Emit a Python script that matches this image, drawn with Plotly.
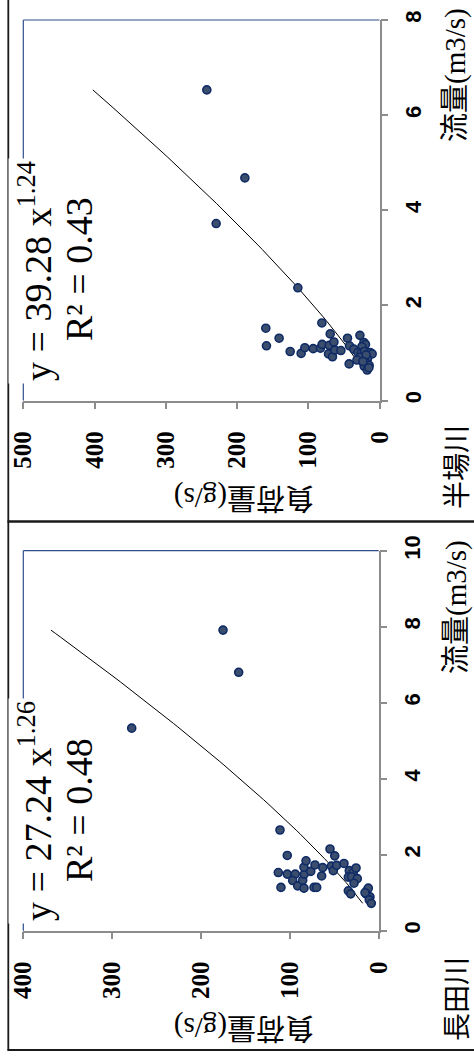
import numpy as np
import plotly.graph_objects as go

W, H = 474, 1062

# 半場川: flow (m3/s) and load (g/s)
hanba_flow = [6.53, 4.68, 3.72, 2.37,
              1.52, 1.15, 1.31, 1.03, 0.99, 1.11, 1.09, 1.10, 1.63, 1.18,
              1.40, 1.16, 1.23, 0.98, 0.92, 1.06, 1.05, 1.31, 1.15, 0.77,
              1.08, 1.37, 1.22, 1.18, 1.13, 1.01, 0.99, 1.03, 1.01, 0.98,
              0.91, 0.87, 0.85, 0.80, 0.74, 0.72, 0.64, 0.69, 0.96, 0.82]
hanba_load = [242.4, 189.0, 229.3, 114.6,
              159.6, 158.7, 140.9, 125.4, 110.0, 104.8, 93.1, 82.9, 80.9, 80.5,
              69.2, 70.6, 64.0, 71.6, 66.0, 62.6, 54.2, 44.9, 42.1, 42.6,
              36.0, 27.5, 21.9, 19.7, 24.7, 30.3, 25.7, 21.1, 13.1, 10.3,
              27.1, 16.9, 31.7, 19.7, 14.5, 21.5, 17.3, 14.9, 18.7, 23.3]

# 長田川: flow (m3/s) and load (g/s)
nagata_flow = [5.33, 7.91, 6.80,
               2.65, 1.98, 1.53, 1.14, 1.49, 1.49, 1.32, 1.18, 1.12, 1.33,
               1.49, 1.67, 1.84, 1.56, 1.73, 1.14, 1.14, 1.44, 1.66, 2.15,
               1.97, 1.70, 1.58, 1.72, 1.77, 1.58, 1.53, 1.65, 1.41, 1.42,
               1.37, 1.25, 1.05, 0.97, 1.05, 1.12, 0.97, 0.89, 0.81, 0.72, 1.00]
nagata_load = [278.0, 175.2, 157.6,
               111.1, 102.9, 113.0, 110.0, 102.9, 93.9, 96.8, 91.2, 84.1, 85.5,
               83.7, 84.1, 81.8, 76.5, 71.7, 72.8, 69.8, 64.2, 63.0, 54.8,
               49.5, 53.3, 51.1, 47.3, 39.1, 33.1, 28.6, 25.5, 34.2, 30.4,
               24.1, 27.8, 34.2, 31.5, 13.5, 11.7, 14.3, 9.8, 10.6, 8.3, 15.4]

# power-law fits  load = a * flow^b, with R²
hanba_fit = (39.28, 1.24, 0.43)
nagata_fit = (27.24, 1.26, 0.48)

load_ticks_top = [0, 100, 200, 300, 400, 500]
load_ticks_bot = [0, 100, 200, 300, 400]
flow_ticks_top = [0, 2, 4, 6, 8]
flow_ticks_bot = [0, 2, 4, 6, 8, 10]


def px_x(p):
    return p / W


def px_y(p):
    return 1 - p / H


MARKER = dict(size=8, color="#3b4e6e", line=dict(color="#0f2b66", width=1.6))
AXIS_GRAY = "#8c8c8c"
TITLE_FONT = "Liberation Serif, Noto Sans CJK JP"

fig = go.Figure()

panels = [
    (hanba_flow, hanba_load, hanba_fit, "x", "y"),
    (nagata_flow, nagata_load, nagata_fit, "x2", "y2"),
]

for flow, load, (a, b, _), xa, ya in panels:
    fx = np.linspace(min(flow), max(flow), 80)
    fig.add_trace(go.Scatter(x=a * fx ** b, y=fx, mode="lines",
                             line=dict(color="black", width=1),
                             xaxis=xa, yaxis=ya, hoverinfo="skip"))
    fig.add_trace(go.Scatter(x=load, y=flow, mode="markers", marker=MARKER,
                             xaxis=xa, yaxis=ya))


def load_axis(domain, ticks, anchor):
    return dict(domain=domain, range=[ticks[-1], 0], tickvals=ticks,
                anchor=anchor, showgrid=False, zeroline=False, automargin=False,
                showline=True, linecolor=AXIS_GRAY, linewidth=1.5,
                ticks="outside", ticklen=7, tickwidth=1.5, tickcolor=AXIS_GRAY,
                tickangle=-90, ticklabelstandoff=12,
                tickfont=dict(family="Liberation Serif", size=25, color="black",
                              weight="bold"))


def flow_axis(domain, ticks, anchor):
    return dict(domain=domain, range=[0, ticks[-1]], tickvals=ticks,
                anchor=anchor, side="right", showgrid=False, zeroline=False,
                automargin=False,
                showline=True, linecolor=AXIS_GRAY, linewidth=1.5,
                ticks="outside", ticklen=7, tickwidth=1.5, tickcolor=AXIS_GRAY,
                tickangle=-90, ticklabelstandoff=6,
                tickfont=dict(family="Liberation Sans", size=22, color="black",
                              weight="bold"))


top_x = [px_x(23.3), px_x(379.5)]
top_y = [px_y(400.5), px_y(20)]
bot_x = [px_x(23.3), px_x(378.7)]
bot_y = [px_y(930.7), px_y(550.7)]

shapes = []
# plot-area border (top and left sides)
for xa, ya in (("x", "y"), ("x2", "y2")):
    for x0, y0, x1, y1 in ((0, 1, 1, 1), (0, 0, 0, 1)):
        shapes.append(dict(type="line", xref=f"{xa} domain", yref=f"{ya} domain",
                           x0=x0, y0=y0, x1=x1, y1=y1,
                           line=dict(color="#2f4d8a", width=1.2), layer="below"))
# panel frames
shapes.append(dict(type="line", xref="paper", yref="paper",
                   x0=px_x(8.3), x1=px_x(8.3), y0=1.0, y1=px_y(1050.5),
                   line=dict(color="#1a1a1a", width=1.8)))
shapes.append(dict(type="line", xref="paper", yref="paper",
                   x0=px_x(7.5), x1=1.0, y0=px_y(521.5), y1=px_y(521.5),
                   line=dict(color="#1a1a1a", width=2.6)))
shapes.append(dict(type="line", xref="paper", yref="paper",
                   x0=px_x(7.5), x1=1.0, y0=px_y(1050), y1=px_y(1050),
                   line=dict(color="#1a1a1a", width=1.8)))

annotations = []


def text_at(txt, cx, cy, size, family, angle, bg=None, pad=1):
    annotations.append(dict(text=txt, x=px_x(cx), y=px_y(cy), xref="paper",
                            yref="paper", xanchor="center", yanchor="middle",
                            showarrow=False, textangle=angle,
                            bgcolor=bg, borderpad=pad,
                            font=dict(family=family, size=size, color="black")))


for (a, b, r2), cy_eq, cy_r2, cy_flow, cy_load, cy_name, name in (
        (hanba_fit, 271, 269, 75, 498, 467, "半場川"),
        (nagata_fit, 811, 810, 607, 1028, 999, "長田川")):
    text_at(f"y = {a:.2f} x<sup>{b:.2f}</sup>", 35, cy_eq, 38,
            "Liberation Serif", -90, bg="white", pad=2)
    text_at(f"R² = {r2:.2f}", 79, cy_r2, 38, "Liberation Serif", -90)
    text_at("流量(m3/s)", 456, cy_flow, 29, TITLE_FONT, -90)
    text_at("負荷量(g/s)", 244, cy_load, 29, TITLE_FONT, 180)
    text_at(name, 455, cy_name, 28, "Noto Sans CJK JP", -90)

fig.update_layout(
    template="none",
    width=W, height=H, margin=dict(l=0, r=0, t=0, b=0, autoexpand=False),
    paper_bgcolor="white", plot_bgcolor="white", showlegend=False,
    xaxis=load_axis(top_x, load_ticks_top, "y"),
    yaxis=flow_axis(top_y, flow_ticks_top, "x"),
    xaxis2=load_axis(bot_x, load_ticks_bot, "y2"),
    yaxis2=flow_axis(bot_y, flow_ticks_bot, "x2"),
    shapes=shapes, annotations=annotations,
)

fig.write_html("out.html")
